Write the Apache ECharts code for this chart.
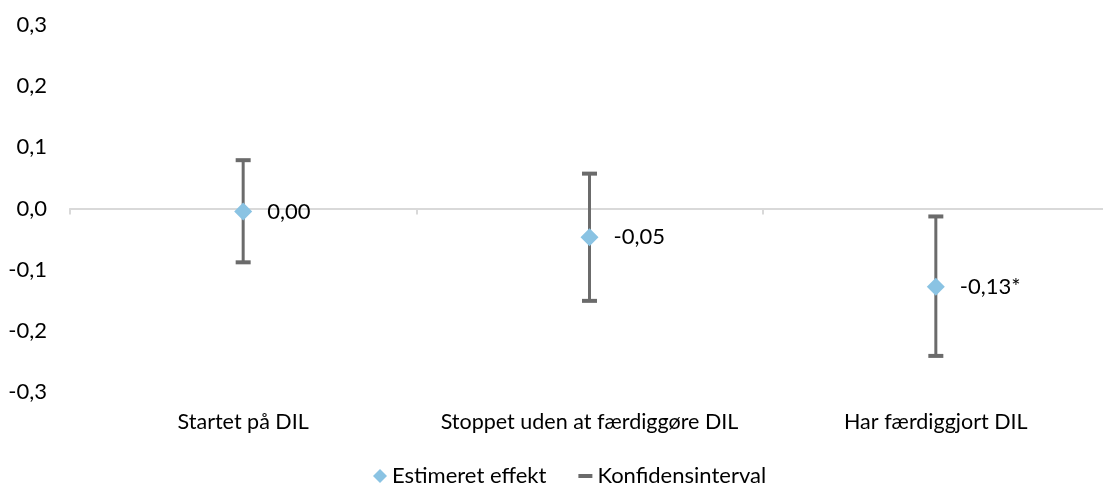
<!DOCTYPE html>
<html>
<head>
<meta charset="utf-8">
<script src="https://cdn.jsdelivr.net/npm/echarts@6/dist/echarts.min.js"></script>
<style>
html,body{margin:0;padding:0;background:#fff;overflow:hidden;}
#chart{width:1110px;height:483px;}
</style>
</head>
<body>
<div id="chart"></div>
<script>
const categories = ['Startet på DIL', 'Stoppet uden at færdiggøre DIL', 'Har færdiggjort DIL'];
const estimates = [-0.005, -0.047, -0.128];
const ciLower = [-0.088, -0.151, -0.241];
const ciUpper = [0.079, 0.057, -0.013];
const pointLabels = ['0,00', '-0,05', '-0,13*'];
const seriesNames = ['Estimeret effekt', 'Konfidensinterval'];

const FONT = 'Lato';
const FS = 22;
const TXT = '#000000';
const BAR = '#6b6b6b';
const DOT = '#8ac3e3';

const chart = echarts.init(document.getElementById('chart'), null, {renderer: 'canvas'});

function renderCI(params, api) {
  const x = api.value(0);
  const pHi = api.coord([x, api.value(2)]);
  const pLo = api.coord([x, api.value(1)]);
  const hw = 7.5;
  const st = {stroke: BAR, lineWidth: 3};
  const cap = {stroke: BAR, lineWidth: 4};
  return {
    type: 'group',
    children: [
      {type: 'line', shape: {x1: pHi[0], y1: pHi[1], x2: pLo[0], y2: pLo[1]}, style: st},
      {type: 'line', shape: {x1: pHi[0] - hw, y1: pHi[1], x2: pHi[0] + hw, y2: pHi[1]}, style: cap},
      {type: 'line', shape: {x1: pLo[0] - hw, y1: pLo[1], x2: pLo[0] + hw, y2: pLo[1]}, style: cap}
    ]
  };
}

const option = {
  animation: false,
  backgroundColor: '#ffffff',
  textStyle: {fontFamily: FONT},
  grid: {left: 70, width: 1039, top: 25, bottom: 91, containLabel: false},
  legend: {
    left: 368,
    top: 460,
    itemWidth: 14,
    itemHeight: 14,
    itemGap: 32,
    textStyle: {fontFamily: FONT, fontSize: FS, color: TXT},
    data: [
      {name: seriesNames[0], icon: 'diamond', itemStyle: {color: DOT}},
      {name: seriesNames[1], icon: 'path://M0,0L14,0L14,4L0,4Z', itemStyle: {color: BAR}}
    ]
  },
  xAxis: [
    {
      type: 'category',
      data: categories,
      boundaryGap: true,
      axisLine: {show: true, onZero: true, lineStyle: {color: '#d9d9d9', width: 2}},
      axisTick: {show: true, length: 6, lineStyle: {color: '#d9d9d9', width: 2}},
      axisLabel: {show: false},
      splitLine: {show: false}
    },
    {
      type: 'category',
      data: categories,
      position: 'bottom',
      boundaryGap: true,
      axisLine: {show: false, onZero: false},
      axisTick: {show: false},
      axisLabel: {show: true, interval: 0, hideOverlap: false, margin: 19, fontFamily: FONT, fontSize: 21.5, color: TXT},
      splitLine: {show: false}
    }
  ],
  yAxis: {
    type: 'value',
    min: -0.3,
    max: 0.3,
    interval: 0.1,
    axisLine: {show: false},
    axisTick: {show: false},
    splitLine: {show: false},
    axisLabel: {
      margin: 23,
      fontFamily: FONT,
      fontSize: FS,
      color: TXT,
      formatter: function (v) {
        if (Math.abs(v) < 1e-9) v = 0;
        return v.toFixed(1).replace('.', ',');
      }
    }
  },
  series: [
    {
      name: seriesNames[1],
      type: 'custom',
      xAxisIndex: 0,
      renderItem: renderCI,
      itemStyle: {color: BAR},
      encode: {x: 0, y: [1, 2]},
      data: categories.map((c, i) => [i, ciLower[i], ciUpper[i]]),
      z: 2
    },
    {
      name: seriesNames[0],
      type: 'scatter',
      xAxisIndex: 0,
      symbol: 'diamond',
      symbolSize: 18,
      itemStyle: {color: DOT, opacity: 1},
      data: estimates.map((v, i) => [i, v]),
      label: {
        show: true,
        position: 'right',
        distance: 15,
        fontFamily: FONT,
        fontSize: FS,
        color: TXT,
        formatter: function (p) { return pointLabels[p.dataIndex]; }
      },
      z: 3
    }
  ]
};
chart.setOption(option);
</script>
</body>
</html>
